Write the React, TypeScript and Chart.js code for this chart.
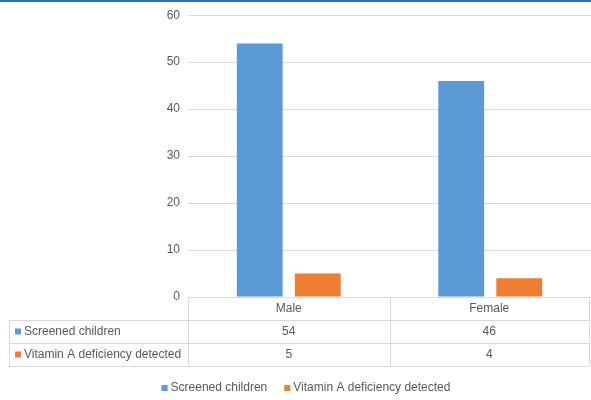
import React, { useEffect, useRef } from "react";
import { Chart, registerables } from "chart.js";

Chart.register(...registerables);

const categories = ["Male", "Female"];
const seriesNames = ["Screened children", "Vitamin A deficiency detected"];
const screenedChildren = [54, 46];
const deficiencyDetected = [5, 4];
const seriesColors = ["#5b9bd5", "#ed7d31"];
const yMax = 60;
const yStep = 10;

const FONT = "'Liberation Sans', Arial, sans-serif";
const TEXT = "#595959";
const LINE = "#d9d9d9";

const tablePlugin = {
  id: "dataTable",
  afterDraw(chart: any) {
    const ctx = chart.ctx as CanvasRenderingContext2D;
    const area = chart.chartArea;
    const xs = chart.scales.x;
    ctx.save();
    // top accent line
    ctx.fillStyle = "#1f77c0";
    ctx.fillRect(0, 0, chart.width, 2);

    const c0 = xs.getPixelForValue(0);
    const c1 = xs.getPixelForValue(1);
    const mid = (c0 + c1) / 2;
    const colLeft = area.left;
    const colRight = area.right - 2;
    const tableLeft = 9;
    const top = area.bottom;
    const rowH = 23;
    const rows = [screenedChildren, deficiencyDetected];

    ctx.strokeStyle = LINE;
    ctx.lineWidth = 1;
    const hline = (x1: number, x2: number, y: number) => {
      ctx.beginPath();
      ctx.moveTo(x1, Math.round(y) + 0.5);
      ctx.lineTo(x2, Math.round(y) + 0.5);
      ctx.stroke();
    };
    const vline = (x: number, y1: number, y2: number) => {
      ctx.beginPath();
      ctx.moveTo(Math.round(x) + 0.5, y1);
      ctx.lineTo(Math.round(x) + 0.5, y2);
      ctx.stroke();
    };
    const bottom = top + rowH * 3;
    hline(tableLeft, colRight, top + rowH);
    hline(tableLeft, colRight, top + rowH * 2);
    hline(tableLeft, colRight, bottom);
    vline(tableLeft, top + rowH, bottom);
    vline(colLeft, top, bottom);
    vline(mid, top, bottom);
    vline(colRight, top, bottom);

    ctx.font = `12px ${FONT}`;
    ctx.fillStyle = TEXT;
    ctx.textBaseline = "middle";
    ctx.textAlign = "center";
    const centers = [(colLeft + mid) / 2, (mid + colRight) / 2];
    categories.forEach((c, i) => {
      ctx.fillText(c, centers[i], top + rowH / 2);
    });
    rows.forEach((vals, r) => {
      const cy = top + rowH * (r + 1) + rowH / 2;
      vals.forEach((v, i) => {
        ctx.fillStyle = TEXT;
        ctx.textAlign = "center";
        ctx.fillText(String(v), centers[i], cy);
      });
      ctx.fillStyle = seriesColors[r];
      ctx.fillRect(tableLeft + 6, cy - 3, 6, 6);
      ctx.fillStyle = TEXT;
      ctx.textAlign = "left";
      ctx.fillText(seriesNames[r], tableLeft + 15, cy);
    });

    // legend
    const ly = 388;
    const gap = 17;
    const w0 = ctx.measureText(seriesNames[0]).width;
    const w1 = ctx.measureText(seriesNames[1]).width;
    const total = 9 + w0 + gap + 9 + w1;
    let lx = 306 - total / 2;
    seriesNames.forEach((name, i) => {
      ctx.fillStyle = seriesColors[i];
      ctx.fillRect(lx, ly - 3, 6, 6);
      ctx.fillStyle = TEXT;
      ctx.textAlign = "left";
      ctx.fillText(name, lx + 9, ly);
      lx += 9 + (i === 0 ? w0 : w1) + gap;
    });
    ctx.restore();
  },
};

export default function App() {
  const ref = useRef<HTMLCanvasElement | null>(null);
  useEffect(() => {
    document.body.style.margin = "0";
    const chart = new Chart(ref.current as HTMLCanvasElement, {
      type: "bar",
      data: {
        labels: categories,
        datasets: [
          {
            label: seriesNames[0],
            data: screenedChildren,
            backgroundColor: seriesColors[0],
            categoryPercentage: 0.576,
            barPercentage: 0.79,
          },
          {
            label: seriesNames[1],
            data: deficiencyDetected,
            backgroundColor: seriesColors[1],
            categoryPercentage: 0.576,
            barPercentage: 0.79,
          },
        ],
      },
      options: {
        animation: false,
        responsive: false,
        events: [],
        layout: { padding: { top: 14, right: 0, bottom: 103, left: 0 } },
        plugins: { legend: { display: false }, tooltip: { enabled: false } },
        scales: {
          x: { display: false },
          y: {
            min: 0,
            max: yMax,
            afterFit: (axis: any) => {
              axis.width = 188;
            },
            ticks: {
              stepSize: yStep,
              padding: 8,
              color: TEXT,
              font: { family: FONT, size: 12 },
            },
            grid: { color: LINE, drawTicks: false },
            border: { display: false },
          },
        },
      },
      plugins: [tablePlugin],
    });
    return () => chart.destroy();
  }, []);
  return (
    <div style={{ width: 591, height: 400 }}>
      <canvas ref={ref} width={591} height={400} style={{ display: "block" }} />
    </div>
  );
}
